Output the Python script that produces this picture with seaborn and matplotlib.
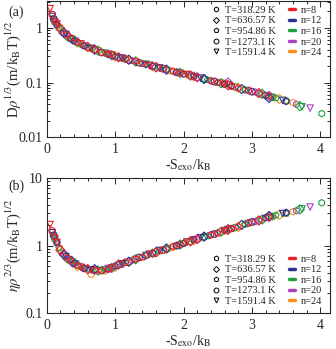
import numpy as np
import pandas as pd
import seaborn as sns
import matplotlib
matplotlib.use("Agg")
import matplotlib.pyplot as plt
from matplotlib.lines import Line2D
from matplotlib.ticker import LogLocator, NullFormatter, MultipleLocator

# temperatures and chain lengths
temps = ["T=318.29 K", "T=636.57 K", "T=954.86 K", "T=1273.1 K", "T=1591.4 K"]
chains = ["n=8", "n=12", "n=16", "n=20", "n=24"]

# -S_exo/k_B, one list per temperature, for each n
x_n8 = [[0.35, 0.8, 1.3, 1.85, 2.4, 2.95, 3.25],
        [0.2, 0.6, 1.05, 1.6, 2.1, 2.65, 3.1],
        [0.12, 0.45, 0.9, 1.4, 1.95, 2.5, 2.8],
        [0.08, 0.3, 0.7, 1.15, 1.7, 2.2, 2.7],
        [0.05, 0.15, 0.5, 0.95, 1.5, 2.05, 2.6]]
D_n8 = [[0.66, 0.355, 0.245, 0.16, 0.108, 0.071, 0.057],
        [0.97, 0.45, 0.29, 0.19, 0.134, 0.089, 0.064],
        [1.32, 0.55, 0.335, 0.222, 0.148, 0.10, 0.079],
        [1.75, 0.74, 0.40, 0.27, 0.178, 0.125, 0.086],
        [2.25, 1.18, 0.51, 0.32, 0.205, 0.139, 0.093]]
eta_n8 = [[0.60, 0.43, 0.63, 0.98, 1.43, 2.17, 2.62],
          [0.86, 0.45, 0.53, 0.80, 1.16, 1.72, 2.36],
          [1.33, 0.51, 0.45, 0.68, 1.04, 1.54, 1.92],
          [1.65, 0.66, 0.43, 0.57, 0.86, 1.25, 1.79],
          [2.05, 1.12, 0.48, 0.47, 0.74, 1.12, 1.66]]

x_n12 = [[0.4, 0.9, 1.45, 2.0, 2.6, 3.2, 3.5],
         [0.25, 0.7, 1.2, 1.75, 2.3, 2.85, 3.25],
         [0.15, 0.55, 1.0, 1.55, 2.15, 2.7],
         [0.1, 0.35, 0.8, 1.35, 1.9, 2.45, 3.0],
         [0.08, 0.28, 0.65, 1.1, 1.65, 2.25, 3.45]]
D_n12 = [[0.58, 0.325, 0.214, 0.143, 0.093, 0.058, 0.045],
         [0.81, 0.40, 0.262, 0.172, 0.116, 0.076, 0.052],
         [1.13, 0.47, 0.30, 0.198, 0.13, 0.087],
         [1.45, 0.64, 0.355, 0.23, 0.153, 0.104, 0.068],
         [1.62, 0.76, 0.42, 0.28, 0.184, 0.12, 0.047]]
eta_n12 = [[0.55, 0.45, 0.71, 1.08, 1.70, 2.60, 3.10],
           [0.74, 0.45, 0.58, 0.91, 1.36, 2.03, 2.75],
           [1.12, 0.46, 0.50, 0.77, 1.22, 1.78],
           [1.42, 0.62, 0.43, 0.67, 1.00, 1.49, 2.25],
           [1.55, 0.69, 0.44, 0.54, 0.85, 1.31, 2.98]]

x_n16 = [[0.5, 1.05, 1.65, 2.3, 2.9, 3.5, 4.02],
         [0.3, 0.75, 1.3, 1.95, 2.55, 3.15, 3.7],
         [0.18, 0.6, 1.15, 1.75, 2.35, 2.9, 3.35],
         [0.12, 0.45, 0.95, 1.55, 2.1, 2.75, 3.3],
         [0.1, 0.38, 0.85, 1.45, 2.05, 2.65, 3.73]]
D_n16 = [[0.50, 0.288, 0.187, 0.118, 0.073, 0.046, 0.027],
         [0.71, 0.385, 0.242, 0.15, 0.097, 0.062, 0.037],
         [1.0, 0.44, 0.27, 0.172, 0.112, 0.074, 0.052],
         [1.28, 0.54, 0.315, 0.198, 0.136, 0.083, 0.054],
         [1.42, 0.61, 0.345, 0.217, 0.14, 0.091, 0.036]]
eta_n16 = [[0.49, 0.52, 0.84, 1.34, 2.10, 3.02, 4.3],
           [0.65, 0.43, 0.63, 1.04, 1.61, 2.44, 3.43],
           [0.93, 0.46, 0.56, 0.89, 1.39, 2.06, 2.82],
           [1.25, 0.52, 0.47, 0.78, 1.16, 1.85, 2.70],
           [1.38, 0.57, 0.44, 0.72, 1.14, 1.73, 3.5]]

x_n20 = [[0.55, 1.1, 1.75, 2.4, 3.05, 3.65],
         [0.38, 0.95, 1.6, 2.2, 2.65, 3.25],
         [0.25, 0.7, 1.25, 1.9, 2.5, 3.1],
         [0.15, 0.55, 1.05, 1.7, 2.3, 2.95],
         [0.12, 0.42, 0.9, 1.5, 2.15, 3.85]]
D_n20 = [[0.47, 0.28, 0.173, 0.107, 0.067, 0.040],
         [0.61, 0.315, 0.192, 0.125, 0.10, 0.057],
         [0.83, 0.395, 0.25, 0.156, 0.10, 0.063],
         [1.15, 0.47, 0.29, 0.18, 0.116, 0.072],
         [1.30, 0.57, 0.33, 0.206, 0.128, 0.034]]
eta_n20 = [[0.47, 0.53, 0.90, 1.46, 2.28, 3.30],
           [0.56, 0.47, 0.81, 1.25, 1.76, 2.65],
           [0.76, 0.44, 0.61, 1.0, 1.55, 2.37],
           [1.10, 0.46, 0.52, 0.86, 1.36, 2.16],
           [1.28, 0.54, 0.46, 0.75, 1.22, 3.72]]

x_n24 = [[0.6, 1.2, 1.85, 2.5, 3.15, 3.6],
         [0.45, 1.0, 1.55, 2.15, 2.8, 3.4],
         [0.35, 0.85, 1.4, 2.0, 2.6, 3.5],
         [0.22, 0.65, 1.2, 1.8, 2.45, 3.0],
         [0.18, 0.75, 1.3, 1.95, 2.55, 3.3]]
D_n24 = [[0.44, 0.26, 0.16, 0.10, 0.061, 0.043],
         [0.54, 0.30, 0.198, 0.13, 0.08, 0.050],
         [0.64, 0.345, 0.222, 0.144, 0.093, 0.047],
         [0.88, 0.42, 0.258, 0.166, 0.105, 0.068],
         [0.98, 0.38, 0.24, 0.15, 0.098, 0.053]]
eta_n24 = [[0.44, 0.57, 0.95, 1.52, 2.40, 3.18],
           [0.50, 0.49, 0.77, 1.20, 1.90, 2.86],
           [0.60, 0.42, 0.67, 1.07, 1.64, 2.95],
           [0.80, 0.38, 0.58, 0.92, 1.47, 2.20],
           [0.90, 0.41, 0.63, 1.02, 1.58, 2.68]]

colors = {"n=8": "#e8202a", "n=12": "#2e3192", "n=16": "#1fa040",
          "n=20": "#a845bf", "n=24": "#f7931e"}
markers = {"T=318.29 K": "h", "T=636.57 K": "D", "T=954.86 K": "p",
           "T=1273.1 K": "o", "T=1591.4 K": "v"}

# long table
rows = []
for n, xs, ds, es in zip(chains,
                         [x_n8, x_n12, x_n16, x_n20, x_n24],
                         [D_n8, D_n12, D_n16, D_n20, D_n24],
                         [eta_n8, eta_n12, eta_n16, eta_n20, eta_n24]):
    for t, xl, dl, el in zip(temps, xs, ds, es):
        for x, d, e in zip(xl, dl, el):
            rows.append({"n": n, "T": t, "S": x, "D": d, "eta": e})
df = pd.DataFrame(rows)

sns.set_style("ticks")
plt.rcParams["font.family"] = ["Liberation Serif", "DejaVu Serif"]
plt.rcParams["mathtext.fontset"] = "stix"

fig = plt.figure(figsize=(3.36, 3.49), dpi=100)
ax_a = fig.add_axes([0.139, 0.607, 0.843, 0.390])
ax_b = fig.add_axes([0.139, 0.102, 0.843, 0.388])


def draw(ax, col):
    # draw in reverse so red ends up on top
    d = df.iloc[::-1]
    sns.scatterplot(data=d, x="S", y=col, hue="n", style="T", palette=colors,
                    markers=markers, s=22, linewidth=0.8, legend=False, ax=ax)
    for pc in ax.collections:
        fc = pc.get_facecolors()
        pc.set_edgecolors(fc)
        pc.set_facecolors("none")
    ax.set_yscale("log")
    ax.set_xlim(0, 4.14)
    ax.xaxis.set_major_locator(MultipleLocator(1))
    ax.xaxis.set_minor_locator(MultipleLocator(0.2))
    ax.yaxis.set_minor_locator(LogLocator(base=10, subs=np.arange(2, 10)))
    ax.yaxis.set_minor_formatter(NullFormatter())
    ax.tick_params(which="both", direction="in", top=True, right=True,
                   labelsize=10, width=0.7, pad=3)
    ax.tick_params(which="major", length=4)
    ax.tick_params(which="minor", length=2)
    ax.tick_params(axis="x", pad=4)
    for sp in ax.spines.values():
        sp.set_linewidth(0.8)
    ax.set_xlabel(r"-S$_{\rm exo}$/k$_{\rm B}$", fontsize=10, labelpad=1)
    ax.yaxis.set_label_coords(-0.085, 0.5)


draw(ax_a, "D")
ax_a.set_ylim(0.01, 3.1)
ax_a.set_yticks([0.01, 0.1, 1])
ax_a.set_yticklabels(["0.01", "0.1", "1"])
ax_a.set_ylabel(r"D$\rho^{1/3}$(m/k$_{\rm B}$T)$^{1/2}$", fontsize=10.5)

draw(ax_b, "eta")
ax_b.set_ylim(0.1, 10)
ax_b.set_yticks([0.1, 1, 10])
ax_b.set_yticklabels(["0.1", "1", "10"])
ax_b.set_ylabel(r"$\eta\rho^{2/3}$(m/k$_{\rm B}$T)$^{1/2}$", fontsize=10.5)

handles = [Line2D([], [], ls="none", marker=markers[t], mfc="none", mec="k",
                  mew=0.7, ms=3.5 if markers[t] != "D" else 3) for t in temps]
handles += [Line2D([], [], color=colors[n], lw=2.5) for n in chains]
labels = temps + chains
for ax, anchor in [(ax_a, (1.0, 1.02)), (ax_b, (1.0, 0.49))]:
    ax.legend(handles, labels, ncol=2, frameon=False, fontsize=7.5,
              loc="upper right", bbox_to_anchor=anchor, handlelength=0.6,
              handletextpad=0.6, columnspacing=1.2, labelspacing=0.12,
              borderaxespad=0.3)

fig.text(0.024, 0.966, "(a)", fontsize=10, va="center")
fig.text(0.024, 0.467, "(b)", fontsize=10, va="center")

fig.savefig("out.png", dpi=100)
